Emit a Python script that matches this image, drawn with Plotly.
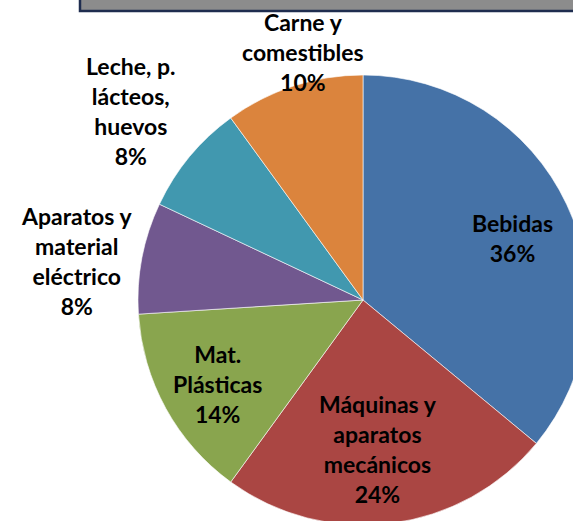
import plotly.graph_objects as go

# Data
categories = ["Bebidas", "Máquinas y<br>aparatos<br>mecánicos", "Mat.<br>Plásticas",
              "Aparatos y<br>material<br>eléctrico", "Leche, p.<br>lácteos,<br>huevos",
              "Carne y<br>comestibles"]
values = [36, 24, 14, 8, 8, 10]
colors = ["#4572A7", "#AA4643", "#89A54E", "#71588F", "#4198AF", "#DB843D"]

# Layout (pixel positions of label centres)
W, H = 600, 545
label_px = [(512, 238), (378, 449), (217, 384), (76, 261), (130, 111), (303, 52)]

fig = go.Figure()
fig.add_trace(go.Pie(
    labels=categories, values=values, sort=False, direction="clockwise", rotation=0,
    marker=dict(colors=colors, line=dict(color="rgba(255,255,255,0.6)", width=1)),
    textinfo="none", hoverinfo="label+percent", showlegend=False,
    domain=dict(x=[138 / W, 588 / W], y=[(H - 525) / H, (H - 75) / H]),
))

total = sum(values)
for (px, py), lab, v in zip(label_px, categories, values):
    fig.add_annotation(
        x=px / W, y=1 - py / H, xref="paper", yref="paper",
        text=f"{lab}<br>{round(100 * v / total)}%", showarrow=False,
        xanchor="center", yanchor="middle", align="center",
        font=dict(family="Lato", size=23, color="#000000", weight="bold"),
    )

# Title bar (cut off at top)
fig.add_shape(type="rect", xref="paper", yref="paper",
              x0=80 / W, x1=640 / W, y0=1 - 11 / H, y1=1 + 20 / H,
              fillcolor="#8C8C8C", line=dict(color="#1F2D4F", width=2.5))

fig.update_layout(width=W, height=H, margin=dict(l=0, r=0, t=0, b=0),
                  paper_bgcolor="white", plot_bgcolor="white")

fig.write_html("out.html", config={"displayModeBar": False},
               post_script="document.body.style.margin='0';document.body.style.overflow='hidden';")
